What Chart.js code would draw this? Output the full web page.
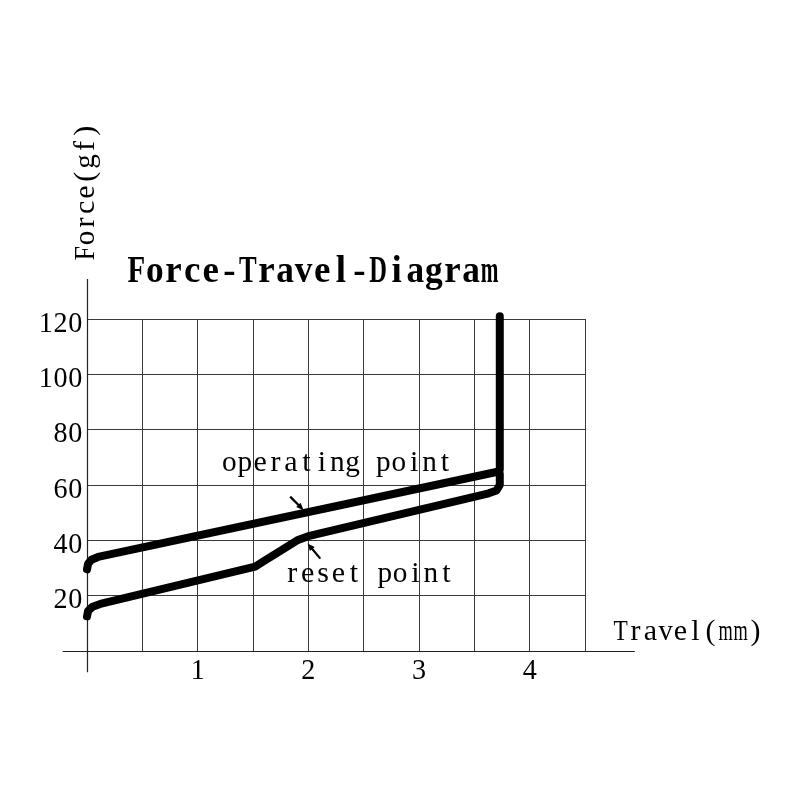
<!DOCTYPE html>
<html>
<head>
<meta charset="utf-8">
<script src="https://cdn.jsdelivr.net/npm/chart.js@4.4.1/dist/chart.umd.min.js"></script>
<style>
  html, body { margin: 0; padding: 0; background: #fff; }
  canvas { display: block; }
</style>
</head>
<body>
<canvas id="ftChart" width="800" height="800"></canvas>
<script>
// Force-Travel curves, travel in mm and force in gf
const opTravel = [0, 0.01, 0.04, 0.1, 3.71, 3.73, 3.73];
const opForce = [29.5, 31.5, 33, 34, 64.8, 65.5, 121];
const rsTravel = [0, 0.01, 0.05, 0.12, 1.52, 1.58, 1.9, 2.0, 3.63, 3.7, 3.73, 3.73];
const rsForce = [12.5, 14.5, 16, 17, 30.5, 32, 40, 41.5, 57, 58, 60, 64];

// grid steps and the labels shown
const xGrid = [0, 0.5, 1, 1.5, 2, 2.5, 3, 3.5, 4, 4.5];
const yGrid = [0, 20, 40, 60, 80, 100, 120];
const xLabels = [1, 2, 3, 4];
const yLabels = [20, 40, 60, 80, 100, 120];

// annotations: text and small arrows pointing at the curves
const noteText = ["operating point", "reset point"];
const noteX = [2.261, 2.551];
const noteY = [65.1, 25];
const arrowFromX = [1.836, 2.108];
const arrowFromY = [55.8, 33.4];
const arrowToX = [1.957, 1.993];
const arrowToY = [50.9, 38.9];

const FONT = "'Liberation Serif', 'DejaVu Serif', serif";

// fixed-pitch serif text, one glyph per cell, like the SimSun face of the original
function pitchText(ctx, text, cx, baseY, size, cell, bold, rotate) {
  ctx.save();
  ctx.translate(cx, baseY);
  if (rotate) ctx.rotate(-Math.PI / 2);
  ctx.font = (bold ? "bold " : "") + size + "px " + FONT;
  ctx.textAlign = "center";
  ctx.textBaseline = "alphabetic";
  ctx.fillStyle = "#000";
  const start = -cell * text.length / 2;
  for (let i = 0; i < text.length; i++) {
    const ch = text[i];
    const w = ctx.measureText(ch).width;
    const sx = w > cell * 0.95 ? (cell * 0.95) / w : 1;
    ctx.save();
    ctx.translate(start + cell * (i + 0.5), 0);
    ctx.scale(sx, 1);
    ctx.fillText(ch, 0, 0);
    ctx.restore();
  }
  ctx.restore();
}

function drawArrow(ctx, x1, y1, x2, y2) {
  const ang = Math.atan2(y2 - y1, x2 - x1);
  const head = 8;
  ctx.save();
  ctx.strokeStyle = "#000";
  ctx.fillStyle = "#000";
  ctx.lineWidth = 2.2;
  ctx.beginPath();
  ctx.moveTo(x1, y1);
  ctx.lineTo(x2 - Math.cos(ang) * head * 0.6, y2 - Math.sin(ang) * head * 0.6);
  ctx.stroke();
  ctx.beginPath();
  ctx.moveTo(x2, y2);
  ctx.lineTo(x2 - head * Math.cos(ang - 0.4), y2 - head * Math.sin(ang - 0.4));
  ctx.lineTo(x2 - head * Math.cos(ang + 0.4), y2 - head * Math.sin(ang + 0.4));
  ctx.closePath();
  ctx.fill();
  ctx.restore();
}

// long axis lines that run past the grid, drawn under the curves
const axisLines = {
  id: "axisLines",
  beforeDatasetsDraw(chart) {
    const { ctx, scales: { x, y } } = chart;
    const x0 = Math.round(x.getPixelForValue(0)) + 0.5;
    const y0 = Math.round(y.getPixelForValue(0)) + 0.5;
    ctx.save();
    ctx.strokeStyle = "#222";
    ctx.lineWidth = 1.2;
    ctx.beginPath();
    ctx.moveTo(x.getPixelForValue(-0.22), y0);
    ctx.lineTo(x.getPixelForValue(4.95), y0);
    ctx.moveTo(x0, y.getPixelForValue(134.5));
    ctx.lineTo(x0, y.getPixelForValue(-7.7));
    ctx.stroke();
    ctx.restore();
  }
};

// tick labels, titles and notes
const textLayer = {
  id: "textLayer",
  afterDraw(chart) {
    const { ctx, scales: { x, y } } = chart;
    const cw = 14.8;
    yLabels.forEach(v => {
      const s = String(v);
      pitchText(ctx, s, 82.7 - cw * s.length / 2, y.getPixelForValue(v) + 12.7, 30, cw, false, false);
    });
    xLabels.forEach(v => {
      pitchText(ctx, String(v), x.getPixelForValue(v), 679, 30, cw, false, false);
    });

    pitchText(ctx, "Force-Travel-Diagram", 313, 281.7, 37, 18.6, true, false);
    pitchText(ctx, "Force(gf)", 93.5, 192, 30, 15.3, false, true);
    pitchText(ctx, "Travel(mm)", 688, 639.5, 30, 15, false, false);

    noteText.forEach((t, i) => {
      pitchText(ctx, t, x.getPixelForValue(noteX[i]), y.getPixelForValue(noteY[i]), 30, 15.4, false, false);
    });
    for (let i = 0; i < arrowFromX.length; i++) {
      drawArrow(ctx,
        x.getPixelForValue(arrowFromX[i]), y.getPixelForValue(arrowFromY[i]),
        x.getPixelForValue(arrowToX[i]), y.getPixelForValue(arrowToY[i]));
    }
  }
};

function curve(xs, ys) {
  return xs.map((v, i) => ({ x: v, y: ys[i] }));
}

const lineStyle = {
  borderColor: "#000",
  borderWidth: 8,
  borderCapStyle: "round",
  borderJoinStyle: "round",
  pointRadius: 0,
  tension: 0,
  fill: false,
  clip: false
};

new Chart(document.getElementById("ftChart").getContext("2d"), {
  type: "line",
  data: {
    datasets: [
      { label: "operating", data: curve(opTravel, opForce), ...lineStyle },
      { label: "reset", data: curve(rsTravel, rsForce), ...lineStyle }
    ]
  },
  options: {
    responsive: false,
    animation: false,
    layout: { padding: { top: 319, right: 215, left: 0, bottom: 0 } },
    plugins: { legend: { display: false }, title: { display: false }, tooltip: { enabled: false } },
    scales: {
      x: {
        type: "linear",
        min: 0,
        max: 4.5,
        afterBuildTicks: s => { s.ticks = xGrid.map(v => ({ value: v })); },
        afterFit: s => { s.height = 149; },
        ticks: { display: false },
        grid: { color: "#3a3a3a", lineWidth: 1, drawTicks: false },
        border: { display: false }
      },
      y: {
        type: "linear",
        min: 0,
        max: 120,
        afterBuildTicks: s => { s.ticks = yGrid.map(v => ({ value: v })); },
        afterFit: s => { s.width = 87; },
        ticks: { display: false },
        grid: { color: "#3a3a3a", lineWidth: 1, drawTicks: false },
        border: { display: false }
      }
    }
  },
  plugins: [axisLines, textLayer]
});
</script>
</body>
</html>
